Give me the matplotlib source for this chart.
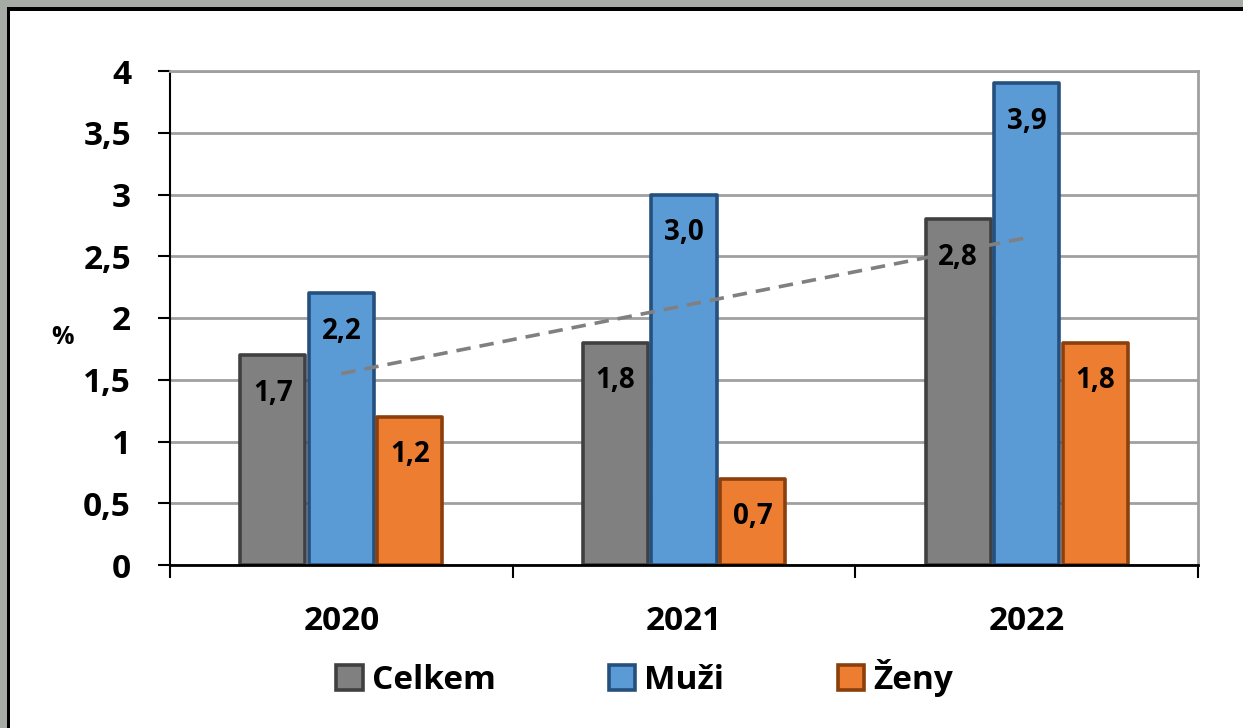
import numpy as np
import matplotlib.pyplot as plt
from matplotlib.patches import Rectangle

roky = ["2020", "2021", "2022"]
celkem = [1.7, 1.8, 2.8]
muzi = [2.2, 3.0, 3.9]
zeny = [1.2, 0.7, 1.8]
yticks = [0, 0.5, 1, 1.5, 2, 2.5, 3, 3.5, 4]
ytick_labels = ["0", "0,5", "1", "1,5", "2", "2,5", "3", "3,5", "4"]

plt.rcParams["font.family"] = ["Open Sans", "DejaVu Sans"]
plt.rcParams["font.weight"] = "bold"

fig = plt.figure(figsize=(12.43, 7.28), dpi=100)
fig.patch.set_facecolor("white")

# ramecek kolem grafu
fig.patches.append(Rectangle((0, 0), 1, 1, transform=fig.transFigure,
                             facecolor="#a6aba6", edgecolor="none", zorder=-3))
fig.patches.append(Rectangle((7 / 1243, -0.1), 1.1, (728 - 7) / 728 + 0.1,
                             transform=fig.transFigure, facecolor="black",
                             edgecolor="none", zorder=-2))
fig.patches.append(Rectangle((10.5 / 1243, -0.1), 1.1, (728 - 11) / 728 + 0.1,
                             transform=fig.transFigure, facecolor="white",
                             edgecolor="none", zorder=-1))

ax = fig.add_axes([170 / 1243, (728 - 565) / 728, 1028 / 1243, 494 / 728])
ax.set_facecolor("none")

x = np.arange(len(roky))
w = 0.19
step = 0.2
serie = [
    ("Celkem", celkem, "#808080", "#404040"),
    ("Muži", muzi, "#5b9bd5", "#25507e"),
    ("Ženy", zeny, "#ed7d31", "#8a3f0c"),
]
for i, (nazev, hodnoty, fc, ec) in enumerate(serie):
    bars = ax.bar(x + (i - 1) * step, hodnoty, w, color=fc, edgecolor=ec,
                  linewidth=2.6, label=nazev, zorder=3, joinstyle="round")
    for b, v in zip(bars, hodnoty):
        ax.annotate(f"{v:.1f}".replace(".", ","),
                    (b.get_x() + b.get_width() / 2, v),
                    xytext=(0, -38), textcoords="offset pixels",
                    ha="center", va="center", fontsize=20, fontweight="bold",
                    color="black", zorder=5)

# linearni trend celkem
k, q = np.polyfit(x, celkem, 1)
ax.plot(x, k * x + q, color="#808080", linestyle=(0, (4, 2.5)),
        linewidth=2.6, zorder=4)

ax.set_xlim(-0.5, 2.5)
ax.set_ylim(0, 4)
ax.set_yticks(yticks)
ax.set_yticklabels(ytick_labels)
ax.set_xticks(x)
ax.set_xticklabels(roky)
ax.set_xticks([-0.5, 0.5, 1.5, 2.5], minor=True)
ax.tick_params(axis="x", which="major", length=0, pad=29, labelsize=24)
ax.tick_params(axis="x", which="minor", length=9, width=1.5, direction="out")
ax.tick_params(axis="y", length=9, width=1.5, labelsize=24, pad=19)
for lab in ax.get_xticklabels() + ax.get_yticklabels():
    lab.set_fontweight("bold")

ax.grid(axis="y", color="#a0a0a0", linewidth=2, zorder=0)
ax.spines["left"].set_color("black")
ax.spines["left"].set_linewidth(1.5)
ax.spines["bottom"].set_color("black")
ax.spines["bottom"].set_linewidth(2)
ax.spines["top"].set_color("#a0a0a0")
ax.spines["top"].set_linewidth(2)
ax.spines["right"].set_color("#a0a0a0")
ax.spines["right"].set_linewidth(2)
ax.spines["bottom"].set_zorder(6)

fig.text(62 / 1243, 1 - 338 / 728, "%", ha="center", va="center",
         fontsize=18, fontweight="bold")

leg = fig.legend(loc="center", bbox_to_anchor=(0.5185, 1 - 678 / 728),
                 ncol=3, frameon=False, fontsize=24, handlelength=0.8,
                 handleheight=0.8, handletextpad=0.27, columnspacing=3.4)
for t in leg.get_texts():
    t.set_fontweight("bold")

fig.savefig("out.png", dpi=100)
